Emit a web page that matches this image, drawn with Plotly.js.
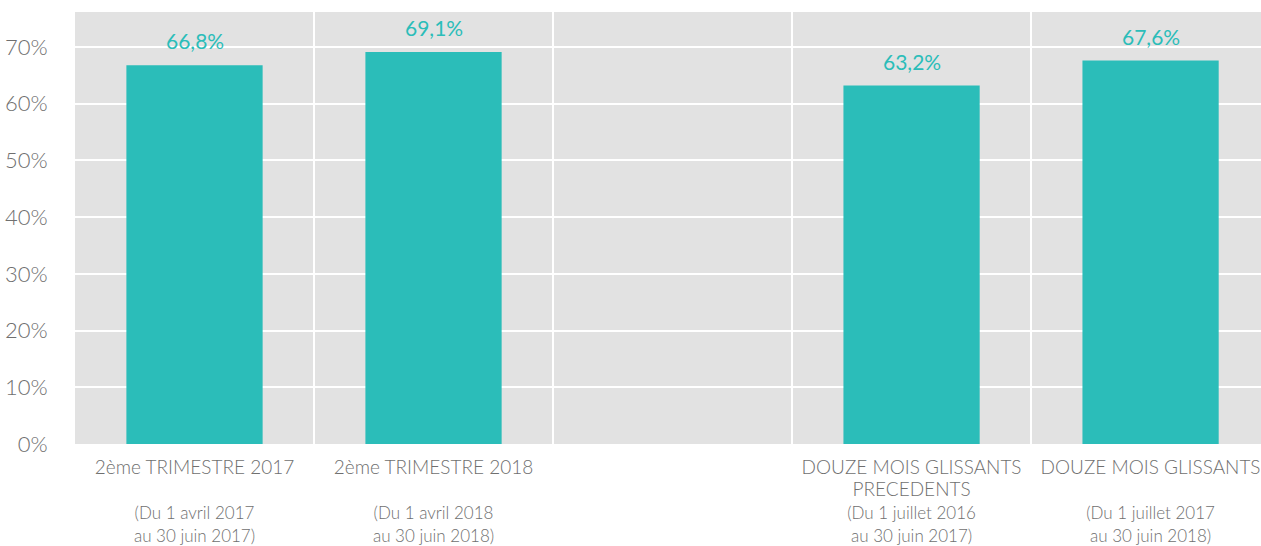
<!DOCTYPE html>
<html>
<head>
<meta charset="utf-8">
<script src="https://cdn.plot.ly/plotly-3.0.1.min.js"></script>
<style>
  html, body { margin: 0; padding: 0; background: #fff; overflow: hidden; }
</style>
</head>
<body>
<div id="chart"></div>
<script>
// Data ------------------------------------------------------------------------
const mainLabels = [
  ['2ème TRIMESTRE 2017', ''],
  ['2ème TRIMESTRE 2018', ''],
  [],
  ['DOUZE MOIS GLISSANTS', 'PRECEDENTS'],
  ['DOUZE MOIS GLISSANTS', '']
]
const periodLabels = [
  ['(Du 1 avril 2017', 'au 30 juin 2017)'],
  ['(Du 1 avril 2018', 'au 30 juin 2018)'],
  [],
  ['(Du 1 juillet 2016', 'au 30 juin 2017)'],
  ['(Du 1 juillet 2017', 'au 30 juin 2018)']
]
const values = [0.668, 0.691, null, 0.632, 0.676]

// Utils -----------------------------------------------------------------------
const teal = '#2bbdb9'
const grey = '#6f6f6f'
const fontFamily = 'Lato, "Open Sans", sans-serif'

const sized = px => s => s ? `<span style="font-size:${px}px">${s}</span>` : ''
const tickText = mainLabels.map((lines, i) => {
  if (!lines.length) return ' '
  return lines.map(sized(19))
    .concat(periodLabels[i].map(sized(17)))
    .join('<br>')
})
const pct = v => (v * 100).toFixed(1).replace('.', ',') + '%'

// Chart -----------------------------------------------------------------------
const trace = {
  x: tickText,
  y: values,
  type: 'bar',
  width: 0.57,
  marker: { color: teal },
  hoverinfo: 'skip'
}

const annotations = values
  .map((v, i) => v === null ? null : ({
    x: tickText[i],
    y: v,
    text: pct(v),
    showarrow: false,
    yanchor: 'bottom',
    yshift: 10,
    font: { family: fontFamily, size: 21, color: teal, weight: 400 }
  }))
  .filter(a => a)

const layout = {
  width: 1261,
  height: 546,
  margin: { l: 75, r: 0, t: 12, b: 102 },
  paper_bgcolor: '#ffffff',
  plot_bgcolor: '#e2e2e2',
  font: { family: fontFamily, color: grey, weight: 300 },
  showlegend: false,
  xaxis: {
    type: 'category',
    range: [-0.5, 4.462],
    tickson: 'boundaries',
    showgrid: true,
    gridcolor: '#ffffff',
    gridwidth: 2,
    ticks: '',
    ticklabelstandoff: 11,
    tickfont: { family: fontFamily, size: 17.5, color: grey, weight: 300 },
    tickangle: 0,
    fixedrange: true
  },
  yaxis: {
    range: [0, 0.7617],
    dtick: 0.1,
    tickformat: '.0%',
    showgrid: true,
    gridcolor: '#ffffff',
    gridwidth: 2,
    zeroline: false,
    ticks: 'outside',
    ticklen: 22,
    tickcolor: 'rgba(0,0,0,0)',
    tickfont: { family: fontFamily, size: 22, color: grey, weight: 300 },
    fixedrange: true
  },
  annotations: annotations
}

Plotly.newPlot('chart', [trace], layout, { displayModeBar: false, staticPlot: true })
</script>
</body>
</html>
